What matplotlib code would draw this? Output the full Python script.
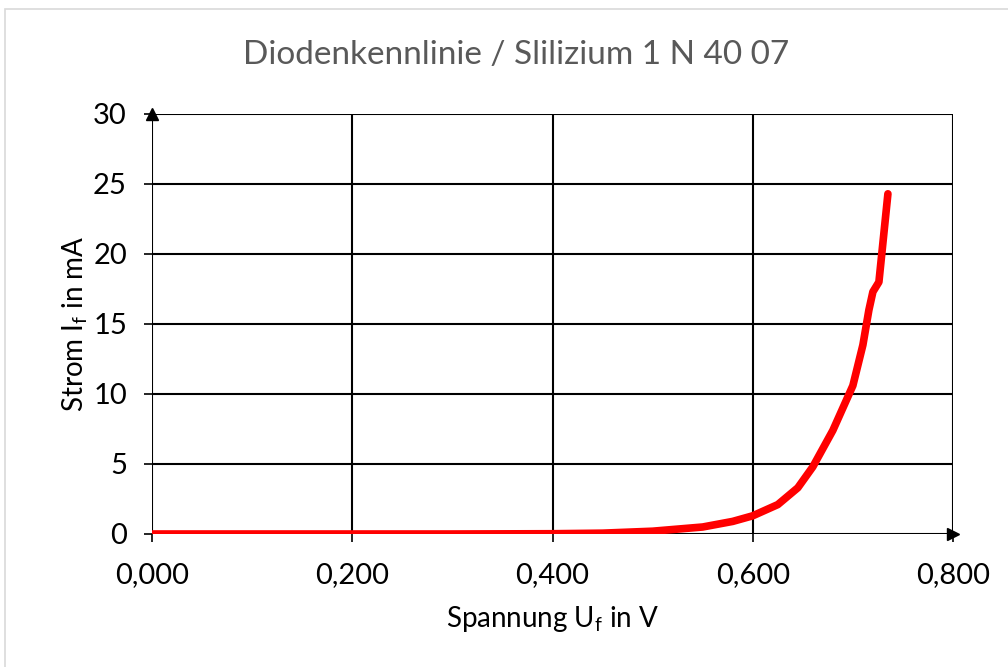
import matplotlib
matplotlib.use("Agg")
import matplotlib.pyplot as plt
from matplotlib.patches import Rectangle
from matplotlib.ticker import FuncFormatter

plt.rcParams['font.family'] = ['Lato', 'DejaVu Sans']
plt.rcParams['mathtext.fontset'] = 'custom'
plt.rcParams['mathtext.rm'] = 'Lato'

spannung = [0.0, 0.1, 0.2, 0.3, 0.4, 0.45, 0.5, 0.55, 0.58, 0.60, 0.625,
            0.645, 0.66, 0.68, 0.70, 0.71, 0.716, 0.72, 0.726, 0.735]
strom = [0.0, 0.0, 0.0, 0.0, 0.02, 0.06, 0.2, 0.5, 0.9, 1.3, 2.1,
         3.3, 4.8, 7.4, 10.6, 13.5, 16.0, 17.3, 18.0, 24.3]

x_ticks = [0.0, 0.2, 0.4, 0.6, 0.8]
y_ticks = [0, 5, 10, 15, 20, 25, 30]

fig = plt.figure(figsize=(10.08, 6.67), dpi=100)
fig.patches.append(Rectangle((5 / 1008, -0.01), 1.02, (667 - 9) / 667 + 0.01,
                             transform=fig.transFigure, fill=False,
                             edgecolor='#d9d9d9', linewidth=1.2))

ax = fig.add_axes([152 / 1008, 1 - 534 / 667, (953 - 152) / 1008, (534 - 114) / 667])

ax.plot(spannung, strom, color='#ff0000', linewidth=5.5, solid_capstyle='round',
        solid_joinstyle='round', zorder=5)

ax.set_xlim(0, 0.8)
ax.set_ylim(0, 30)
ax.set_xticks(x_ticks)
ax.set_yticks(y_ticks)
ax.xaxis.set_major_formatter(FuncFormatter(lambda v, p: f"{v:.3f}".replace('.', ',')))
ax.grid(True, color='black', linewidth=1.5)
ax.set_axisbelow(True)
for s in ax.spines.values():
    s.set_visible(False)
ax.tick_params(axis='both', labelsize=21, colors='black', length=6, width=1.2)
ax.tick_params(axis='x', pad=14)
ax.tick_params(axis='y', pad=12)

# Pfeile an den Achsenenden
ax.plot([0], [30], marker='^', color='black', markersize=9, clip_on=False, zorder=6)
ax.plot([0.8], [0], marker='>', color='black', markersize=9, clip_on=False, zorder=6)

fig.text(516 / 1008, 1 - 55 / 667, 'Diodenkennlinie / Slilizium 1 N 40 07',
         fontsize=24, color='#595959', ha='center', va='center')
ax.set_xlabel(r'Spannung U$_\mathrm{f}$ in V', fontsize=20, labelpad=12)
ax.set_ylabel(r'Strom I$_\mathrm{f}$ in mA', fontsize=20, labelpad=2)

fig.savefig('out.png', dpi=100)
